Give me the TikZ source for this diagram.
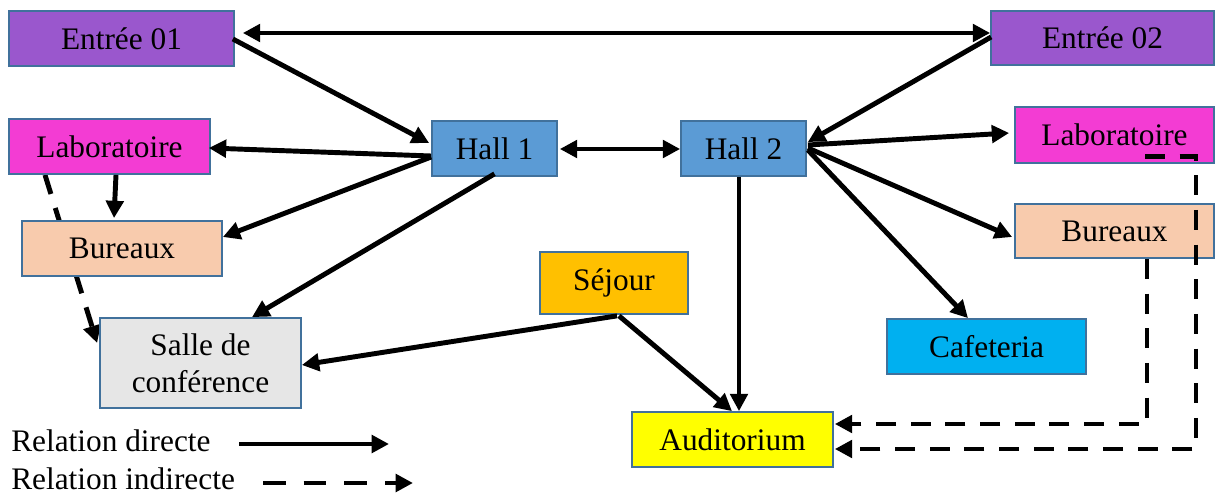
\documentclass[tikz,border=0pt]{standalone}
\usepackage{fontspec}
\setmainfont{Liberation Serif}
\usetikzlibrary{arrows.meta,calc,backgrounds}
\definecolor{entree}{HTML}{9A57CD}
\definecolor{labo}{HTML}{F33CD3}
\definecolor{hall}{HTML}{5B9BD5}
\definecolor{bureau}{HTML}{F8CBAD}
\definecolor{salle}{HTML}{E6E6E6}
\definecolor{sejour}{HTML}{FFC000}
\definecolor{cafe}{HTML}{00B0F0}
\definecolor{audit}{HTML}{FFFF00}
\definecolor{boxedge}{HTML}{41719C}
\begin{document}
\begin{tikzpicture}[x=0.75pt,y=-0.75pt,
  label font/.style={font=\fontsize{23.5}{27.5}\selectfont},
  room/.style={draw=boxedge, line width=1.3pt, inner sep=0pt, align=center, label font},
  tip/.style={-{Triangle[length=13pt,width=13pt]}},
  link/.style={line width=3.7pt, tip},
  twoway/.style={line width=3.7pt, {Triangle[length=13pt,width=13pt]}-{Triangle[length=13pt,width=13pt]}},
  dlink/.style={link, dash pattern=on 15pt off 11pt},
]
\useasboundingbox (0,0) rectangle (1215,496);

% rooms
\node[room, fill=entree, minimum width=168.75pt, minimum height=41.25pt] (e1) at (121.5,38.5) {Entrée 01};
\node[room, fill=entree, minimum width=167.25pt, minimum height=40.5pt] (e2) at (1102.5,38) {Entrée 02};
\node[room, fill=labo, minimum width=150.75pt, minimum height=41.25pt] (labl) at (109.5,146.5) {Laboratoire};
\node[room, fill=labo, minimum width=149.25pt, minimum height=42pt] (labr) at (1114.5,135) {Laboratoire};
\node[room, fill=bureau, minimum width=150pt, minimum height=41.25pt] (burl) at (122,248.5) {Bureaux};
\node[room, fill=bureau, minimum width=149.25pt, minimum height=40.5pt] (burr) at (1114.5,231) {Bureaux};
\node[room, fill=salle, minimum width=150.75pt, minimum height=67.5pt] (salle) at (200.5,363) {Salle de\\conférence};
\node[room, fill=hall, minimum width=93.75pt, minimum height=41.25pt] (h1) at (494.5,148.5) {Hall 1};
\node[room, fill=hall, minimum width=93.75pt, minimum height=41.25pt] (h2) at (743.5,148.5) {Hall 2};
\node[room, fill=sejour, minimum width=111pt, minimum height=46.5pt] (sej) at (614,283) {Séjour};
\node[room, fill=cafe, minimum width=149.25pt, minimum height=41.25pt] (cafe) at (986.5,346.5) {Cafeteria};
\node[room, fill=audit, minimum width=150.75pt, minimum height=41.25pt] (aud) at (732.5,439.5) {Auditorium};

% dashed link passing behind the left Bureaux box
\begin{pgfonlayer}{background}
\draw[dlink] ($(labl.south)+(-64.5,0)$) -- ($(salle.west)+(-2,-20)$);
\end{pgfonlayer}

% direct relations
\draw[twoway] ($(e1.east)+(8,-5.5)$) -- ($(e2.west)+(0,-5)$);
\draw[link] ($(e1.east)+(-2,0.5)$) -- ($(h1.west)+(-2,-5.5)$);
\draw[link] ($(h1.west)+(0,7.5)$) -- ($(labl.east)+(-2,1.5)$);
\draw[link] ($(h1.west)+(0,8.5)$) -- ($(burl.east)+(0,-11.5)$);
\draw[link] ($(h1.south)+(0,-3)$) -- ($(salle.north)+(51.5,0)$);
\draw[twoway] ($(h1.east)+(2,0.5)$) -- ($(h2.west)+(0,0.5)$);
\draw[link] ($(e2.west)+(1,-1)$) -- ($(h2.east)+(1,-6.5)$);
\draw[link] ($(h2.east)+(1,-3.5)$) -- ($(labr.west)+(-5,-2)$);
\draw[link] ($(h2.east)+(1,-0.5)$) -- ($(burr.west)+(-2,6)$);
\draw[link] ($(h2.east)+(1,1.5)$) -- ($(cafe.north)+(-18.5,0)$);
\draw[link] ($(h2.south)+(-4.5,0)$) -- ($(aud.north)+(6.5,0)$);
\draw[link] ($(sej.south)+(3,1)$) -- ($(salle.east)+(0,2)$);
\draw[link] ($(sej.south)+(5,1)$) -- ($(aud.north)+(-0.5,0)$);
\draw[link] ($(labl.south)+(6.5,0)$) -- ($(burl.north)+(-8,-2)$);

% indirect relations
\draw[dlink] ($(labr.south)+(30.5,-7)$) -- ++(51,0) |- ($(aud.east)+(1,9.5)$);
\draw[dlink] ($(burr.south)+(32.5,0)$) |- ($(aud.east)+(1,-15.5)$);

% legend
\node[label font, anchor=west, inner sep=0pt] (legd) at (11,441) {Relation directe};
\node[label font, anchor=west, inner sep=0pt] (legi) at (11,479) {Relation indirecte};
\coordinate (da) at (239,444);
\coordinate (db) at (389,444);
\coordinate (ia) at (263,483);
\coordinate (ib) at (413,483);
\draw[link] (da) -- (db);
\draw[line width=3.7pt, dash pattern=on 17pt off 13.5pt, tip] (ia) -- (ib);
\end{tikzpicture}
\end{document}
